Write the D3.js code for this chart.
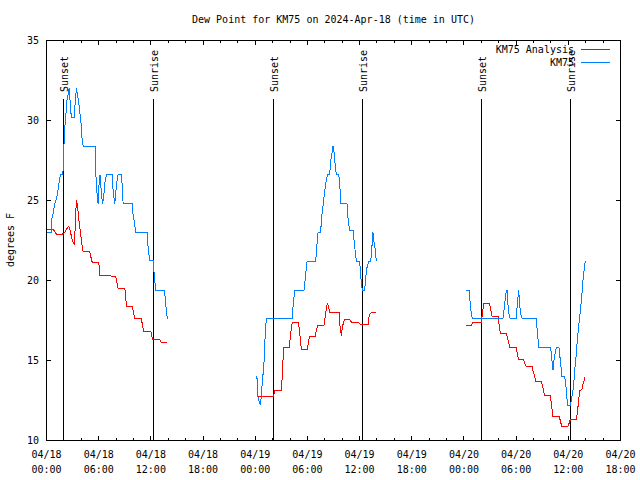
<!DOCTYPE html>
<html>
<head>
<meta charset="utf-8">
<script src="https://cdn.jsdelivr.net/npm/d3@7"></script>
<style>
  body { margin: 0; background: #fff; }
  text { font-family: "DejaVu Sans Mono", monospace; font-size: 10px; fill: #000; }
</style>
</head>
<body>
<svg id="chart" width="640" height="480"></svg>
<script>
// Chart text
const chartTitle = "Dew Point for KM75 on 2024-Apr-18 (time in UTC)";
const yLabel = "degrees F";
const seriesNames = ["KM75 Analysis", "KM75"];

// Time range (UTC) and y ticks
const startTime = Date.UTC(2024, 3, 18, 0, 0);
const endTime = Date.UTC(2024, 3, 20, 18, 0);
const yTicks = [10, 15, 20, 25, 30, 35];

// Sun events, hours after 04/18 00:00 UTC
const sunsetHours = [1.92, 26.05, 50.07];
const sunriseHours = [12.25, 36.3, 60.25];

// KM75 observations: [hours after 04/18 00:00, degrees F]
const obs18 = [
  [0.07, 23.0], [0.57, 23.0], [0.62, 23.9], [0.76, 24.2], [0.95, 24.8], [1.15, 25.1],
  [1.34, 25.7], [1.53, 26.4], [1.6, 26.6], [1.84, 26.6], [1.91, 26.9], [2.0, 28.4],
  [2.1, 29.6], [2.22, 30.2], [2.3, 31.1], [2.45, 31.5], [2.6, 32.0], [2.68, 31.5],
  [2.76, 30.7], [2.87, 30.2], [3.17, 30.2], [3.25, 30.7], [3.33, 31.4], [3.45, 32.0],
  [3.56, 31.6], [3.71, 31.1], [3.83, 30.5], [3.95, 30.0], [4.02, 29.4], [4.1, 28.8],
  [4.21, 28.4], [5.6, 28.4], [5.67, 26.7], [5.82, 25.4], [5.93, 24.8], [6.05, 26.1],
  [6.16, 26.6], [6.32, 25.4], [6.45, 24.8], [6.6, 25.4], [6.74, 26.2], [6.89, 26.6],
  [7.54, 26.6], [7.66, 25.6], [7.85, 24.8], [8.0, 25.7], [8.12, 26.3], [8.23, 26.6],
  [8.62, 26.6], [8.73, 25.7], [8.81, 24.8], [9.84, 24.8], [9.96, 24.1], [10.15, 23.5],
  [10.23, 23.0], [11.57, 23.0], [11.68, 22.1], [11.87, 21.25], [12.26, 21.25], [12.4, 20.3],
  [12.56, 19.4], [13.52, 19.4], [13.6, 19.2], [13.71, 18.5], [13.9, 17.6]
];
const obs19 = [
  [24.2, 14.0], [24.25, 12.9], [24.4, 12.5], [24.6, 12.2], [24.71, 12.9], [24.83, 13.75],
  [24.98, 14.6], [25.09, 15.8], [25.17, 17.0], [25.29, 17.6], [28.23, 17.6], [28.35, 18.4],
  [28.54, 19.4], [29.61, 19.4], [29.77, 20.2], [29.96, 21.2], [30.95, 21.2], [31.11, 22.3],
  [31.22, 23.0], [31.53, 23.0], [31.61, 23.85], [31.8, 24.7], [31.99, 25.6], [32.18, 26.3],
  [32.3, 26.6], [32.56, 26.6], [32.68, 27.5], [32.83, 28.0], [32.95, 28.4], [33.06, 28.0],
  [33.14, 27.5], [33.33, 26.6], [33.6, 26.6], [33.71, 26.15], [33.83, 24.8], [34.55, 24.8],
  [34.67, 23.9], [34.86, 23.1], [35.25, 23.1], [35.44, 22.1], [35.63, 21.2], [35.94, 21.2],
  [36.09, 20.8], [36.2, 19.75], [36.32, 19.4], [36.59, 19.4], [36.7, 20.2], [36.85, 20.8],
  [37.05, 21.2], [37.28, 21.2], [37.43, 22.2], [37.54, 23.0], [37.62, 22.5], [37.74, 22.2],
  [37.93, 21.2]
];
const obs20 = [
  [48.2, 19.4], [48.6, 19.4], [48.73, 18.5], [48.85, 17.9], [48.96, 17.6], [52.48, 17.6],
  [52.68, 18.5], [52.87, 19.4], [52.95, 19.4], [53.06, 18.5], [53.18, 17.9], [53.33, 17.6],
  [54.02, 17.6], [54.13, 18.5], [54.29, 19.4], [54.4, 18.5], [54.52, 17.9], [54.71, 17.6],
  [56.32, 17.6], [56.43, 16.8], [56.59, 16.0], [56.62, 15.8], [57.97, 15.8], [58.12, 15.0],
  [58.24, 14.4], [58.35, 15.0], [58.51, 15.5], [58.62, 15.8], [58.93, 15.8], [59.08, 15.0],
  [59.2, 14.4], [59.27, 14.0], [59.58, 14.0], [59.69, 13.65], [59.77, 13.1], [59.88, 12.4],
  [59.96, 12.2], [60.22, 12.2], [60.34, 12.5], [60.53, 13.1], [60.65, 13.75], [60.8, 14.8],
  [60.92, 15.4], [61.03, 16.25], [61.15, 16.9], [61.3, 17.7], [61.42, 18.3], [61.57, 19.2],
  [61.68, 20.0], [61.8, 20.6], [61.95, 21.25]
];

// KM75 analysis: [hours after 04/18 00:00, degrees F]
const ana18 = [
  [0.07, 23.2], [0.76, 23.2], [0.95, 23.05], [1.15, 22.9], [1.84, 22.9], [2.1, 23.0],
  [2.3, 23.2], [2.56, 23.4], [2.68, 23.2], [2.87, 22.75], [2.99, 22.5], [3.06, 22.4],
  [3.18, 22.3], [3.25, 22.7], [3.37, 24.3], [3.44, 25.0], [3.56, 24.7], [3.71, 23.85],
  [3.83, 23.3], [4.02, 22.5], [4.13, 22.0], [4.21, 21.8], [4.98, 21.8], [5.09, 21.5],
  [5.25, 21.15], [6.01, 21.15], [6.13, 20.3], [7.08, 20.3], [7.97, 20.25], [8.04, 20.0],
  [8.23, 19.5], [9.0, 19.5], [9.08, 19.2], [9.19, 18.35], [9.88, 18.35], [10.03, 17.9],
  [10.15, 17.6], [10.92, 17.6], [11.03, 17.2], [11.18, 16.8], [12.0, 16.8], [12.15, 16.45],
  [12.26, 16.3], [13.03, 16.3], [13.22, 16.1], [13.9, 16.1]
];
const ana19 = [
  [24.21, 12.75], [26.05, 12.75], [26.16, 12.92], [26.24, 13.1], [27.0, 13.1], [27.08, 13.75],
  [27.2, 15.1], [27.27, 15.8], [27.89, 15.8], [28.04, 16.45], [28.16, 17.1], [28.27, 17.4],
  [28.92, 17.4], [29.04, 17.1], [29.15, 16.55], [29.31, 15.7], [30.0, 15.7], [30.15, 16.25],
  [30.26, 16.5], [30.92, 16.5], [31.03, 16.9], [31.22, 17.2], [31.91, 17.2], [32.07, 17.8],
  [32.18, 18.3], [32.3, 18.6], [32.45, 18.3], [32.56, 18.0], [33.64, 18.0], [33.71, 17.3],
  [33.83, 16.9], [33.9, 16.55], [34.02, 17.1], [34.17, 17.4], [34.29, 17.55], [34.86, 17.55],
  [35.05, 17.4], [35.9, 17.35], [36.09, 17.25], [36.97, 17.25], [37.05, 17.6], [37.16, 17.9],
  [37.36, 18.0], [37.93, 18.0]
];
const ana20 = [
  [48.2, 17.2], [48.85, 17.2], [49.04, 17.4], [50.0, 17.4], [50.11, 17.9], [50.19, 18.2],
  [50.3, 18.55], [50.96, 18.55], [51.07, 18.2], [51.23, 17.75], [51.92, 17.75], [52.03, 17.3],
  [52.18, 16.7], [52.87, 16.7], [52.98, 16.45], [53.14, 16.15], [53.25, 15.8], [54.02, 15.8],
  [54.13, 15.45], [54.29, 15.05], [54.86, 15.05], [54.98, 14.8], [55.17, 14.6], [55.86, 14.6],
  [55.94, 14.35], [56.13, 14.0], [56.25, 13.7], [56.9, 13.7], [57.01, 13.45], [57.16, 13.1],
  [57.28, 12.8], [57.93, 12.8], [58.05, 12.3], [58.16, 11.8], [58.24, 11.5], [58.93, 11.5],
  [59.08, 11.25], [59.23, 10.9], [59.96, 10.9], [60.07, 11.05], [60.23, 11.3], [60.92, 11.3],
  [61.03, 11.7], [61.15, 12.3], [61.3, 13.1], [61.57, 13.2], [61.68, 13.5], [61.95, 14.0]
];

const colors = { analysis: "#ff0000", obs: "#0080ff" };

const svg = d3.select("#chart");
const plotLeft = 46.5, plotRight = 620.5, plotTop = 40.5, plotBottom = 440.5;
const HOUR = 3600 * 1000;

const x = d3.scaleUtc().domain([startTime, endTime]).range([plotLeft, plotRight]);
const y = d3.scaleLinear().domain([10, 35]).range([plotBottom, plotTop]);
const hx = h => x(startTime + h * HOUR);

// Title and y label
svg.append("text")
    .attr("x", (plotLeft + plotRight) / 2).attr("y", 23)
    .attr("text-anchor", "middle")
    .text(chartTitle);

svg.append("text")
    .attr("transform", "translate(14,240) rotate(-90)")
    .attr("text-anchor", "middle")
    .text(yLabel);

const crisp = svg.append("g").attr("shape-rendering", "crispEdges");

// X ticks every 2 hours, longer every 6 hours (bottom and top)
const xTicks = d3.utcHour.every(2).range(startTime, endTime + 1);
xTicks.forEach(t => {
    const major = t.getUTCHours() % 6 === 0;
    const len = major ? 4.5 : 2.5;
    const px = Math.round(x(t) - 0.5) + 0.5;
    crisp.append("line").attr("x1", px).attr("x2", px).attr("y1", plotBottom).attr("y2", plotBottom - len).attr("stroke", "#000");
    crisp.append("line").attr("x1", px).attr("x2", px).attr("y1", plotTop).attr("y2", plotTop + len).attr("stroke", "#000");
});

const fmtDay = d3.utcFormat("%m/%d"), fmtTime = d3.utcFormat("%H:%M");
d3.utcHour.every(6).range(startTime, endTime + 1).forEach(t => {
    const lbl = svg.append("text").attr("text-anchor", "middle");
    lbl.append("tspan").attr("x", x(t)).attr("y", 458).text(fmtDay(t));
    lbl.append("tspan").attr("x", x(t)).attr("y", 473).text(fmtTime(t));
});

// Y ticks (left and right)
yTicks.forEach(v => {
    const py = Math.round(y(v) - 0.5) + 0.5;
    crisp.append("line").attr("x1", plotLeft).attr("x2", plotLeft + 4.5).attr("y1", py).attr("y2", py).attr("stroke", "#000");
    crisp.append("line").attr("x1", plotRight).attr("x2", plotRight - 4.5).attr("y1", py).attr("y2", py).attr("stroke", "#000");
    svg.append("text")
        .attr("x", 39).attr("y", y(v) + 3.5)
        .attr("text-anchor", "end")
        .text(v);
});

// Sunset / sunrise markers
const sunEvents = sunsetHours.map(h => ({ h, label: "Sunset" }))
    .concat(sunriseHours.map(h => ({ h, label: "Sunrise" })));
sunEvents.forEach(d => {
    const px = Math.round(hx(d.h) - 0.5) + 0.5;
    crisp.append("line")
        .attr("x1", px).attr("x2", px).attr("y1", 99).attr("y2", plotBottom)
        .attr("stroke", "#000");
    svg.append("text")
        .attr("transform", `translate(${px + 4},92) rotate(-90)`)
        .attr("text-anchor", "start")
        .text(d.label);
});

// Series lines
const line = d3.line().x(d => hx(d[0])).y(d => y(d[1]));
[ana18, ana19, ana20].forEach(seg => {
    crisp.append("path").attr("d", line(seg))
        .attr("fill", "none").attr("stroke", colors.analysis).attr("stroke-width", 1);
});
[obs18, obs19, obs20].forEach(seg => {
    crisp.append("path").attr("d", line(seg))
        .attr("fill", "none").attr("stroke", colors.obs).attr("stroke-width", 1);
});

// Border
crisp.append("rect")
    .attr("x", plotLeft).attr("y", plotTop)
    .attr("width", plotRight - plotLeft).attr("height", plotBottom - plotTop)
    .attr("fill", "none").attr("stroke", "#000");

// Legend
const legendRows = [
    { name: seriesNames[0], color: colors.analysis, y: 49.5 },
    { name: seriesNames[1], color: colors.obs, y: 62.5 }
];
legendRows.forEach(r => {
    svg.append("text")
        .attr("x", 574).attr("y", r.y + 3.5)
        .attr("text-anchor", "end")
        .text(r.name);
    crisp.append("line")
        .attr("x1", 581).attr("x2", 610).attr("y1", r.y).attr("y2", r.y)
        .attr("stroke", r.color);
});
</script>
</body>
</html>
